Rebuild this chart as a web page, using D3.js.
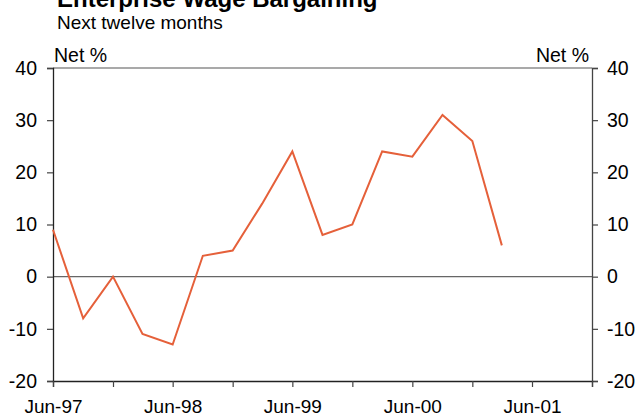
<!DOCTYPE html>
<html>
<head>
<meta charset="utf-8">
<script src="https://cdn.jsdelivr.net/npm/d3@7"></script>
<style>
  body { margin: 0; background: #fff; }
  svg { font-family: 'Liberation Sans', Arial, sans-serif; }
</style>
</head>
<body>
<div id="chart"></div>
<script>
// quarterly survey, net % expecting higher wage outcomes
var quarters = ['1997-06', '1997-09', '1997-12', '1998-03', '1998-06', '1998-09', '1998-12',
  '1999-03', '1999-06', '1999-09', '1999-12', '2000-03', '2000-06', '2000-09', '2000-12', '2001-03']
var netValues = [9, -8, 0, -11, -13, 4, 5, 14, 24, 8, 10, 24, 23, 31, 26, 6]
var yTicks = [-20, -10, 0, 10, 20, 30, 40]
var xLabels = ['Jun-97', 'Jun-98', 'Jun-99', 'Jun-00', 'Jun-01']

var parseMonth = d3.timeParse('%Y-%m')
var datapoints = quarters.map(function(q, i) {
  return { date: parseMonth(q), value: netValues[i] }
})

var margin = { top: 68, left: 53, right: 45, bottom: 37 }
var width = 637 - margin.left - margin.right
var height = 418 - margin.top - margin.bottom

var svg = d3
  .select('#chart')
  .append('svg')
  .attr('width', 637)
  .attr('height', 418)

var g = svg
  .append('g')
  .attr('transform', 'translate(' + margin.left + ',' + margin.top + ')')

var xPositionScale = d3
  .scaleTime()
  .domain([parseMonth('1997-06'), parseMonth('2001-12')])
  .range([0, width])

var yPositionScale = d3
  .scaleLinear()
  .domain([-20, 40])
  .range([height, 0])

// title (cut off by the top of the frame, as in the original)
svg
  .append('text')
  .text('Enterprise Wage Bargaining')
  .attr('x', 57)
  .attr('y', 7)
  .attr('font-size', 24)
  .attr('font-weight', 'bold')

svg
  .append('text')
  .text('Next twelve months')
  .attr('x', 57)
  .attr('y', 29)
  .attr('font-size', 19)

svg
  .append('text')
  .text('Net %')
  .attr('x', 54)
  .attr('y', 62)
  .attr('font-size', 19.5)

svg
  .append('text')
  .text('Net %')
  .attr('x', 589)
  .attr('y', 62)
  .attr('font-size', 19.5)
  .attr('text-anchor', 'end')

// top border and zero line
g.append('line')
  .attr('x1', 0)
  .attr('x2', width)
  .attr('y1', yPositionScale(40))
  .attr('y2', yPositionScale(40))
  .attr('stroke', '#555')
  .attr('stroke-width', 1.2)

g.append('line')
  .attr('x1', 0)
  .attr('x2', width)
  .attr('y1', yPositionScale(0))
  .attr('y2', yPositionScale(0))
  .attr('stroke', '#666')
  .attr('stroke-width', 1.2)

// axes
var plain = function(d) {
  return String(d)
}
var yAxisLeft = d3.axisLeft(yPositionScale).tickValues(yTicks).tickSize(6).tickPadding(10).tickFormat(plain)
var yAxisRight = d3.axisRight(yPositionScale).tickValues(yTicks).tickSize(6).tickPadding(9).tickFormat(plain)

// ticks every six months starting Jun-97
var halfYears = d3.timeMonth.range(parseMonth('1997-06'), parseMonth('2002-01'), 6)
var xAxis = d3
  .axisBottom(xPositionScale)
  .tickValues(halfYears)
  .tickSize(6)
  .tickPadding(13)
  .tickFormat(function(d) {
    return d.getMonth() === 5 ? xLabels[d.getFullYear() - 1997] : ''
  })

g.append('g')
  .attr('class', 'axis y-left')
  .call(yAxisLeft)

g.append('g')
  .attr('class', 'axis y-right')
  .attr('transform', 'translate(' + width + ',0)')
  .call(yAxisRight)

g.append('g')
  .attr('class', 'axis x-axis')
  .attr('transform', 'translate(0,' + height + ')')
  .call(xAxis)

g.selectAll('.axis .domain').attr('stroke', '#222').attr('stroke-width', 1.3)
g.selectAll('.y-right .domain').attr('stroke', '#444')
g.selectAll('.axis .tick line').attr('stroke', '#444').attr('stroke-width', 1.2)
g.selectAll('.axis text')
  .attr('font-size', 19.5)
  .attr('font-family', "'Liberation Sans', Arial, sans-serif")
  .attr('fill', '#000')
g.selectAll('.x-axis text').attr('font-size', 19)

// series
var line = d3
  .line()
  .x(function(d) {
    return xPositionScale(d.date)
  })
  .y(function(d) {
    return yPositionScale(d.value)
  })

g.append('path')
  .datum(datapoints)
  .attr('d', line)
  .attr('fill', 'none')
  .attr('stroke', '#e5603a')
  .attr('stroke-width', 2)
</script>
</body>
</html>
